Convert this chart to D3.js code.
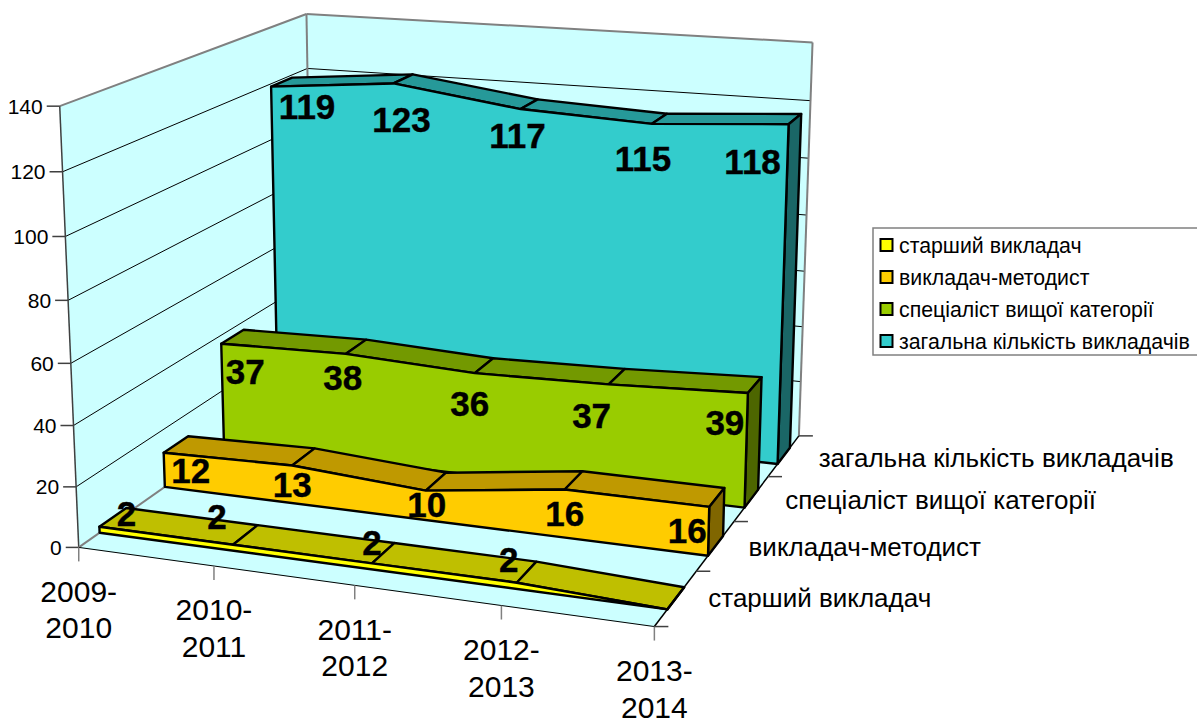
<!DOCTYPE html>
<html><head><meta charset="utf-8">
<style>html,body{margin:0;padding:0;background:#fff}svg{display:block}text{font-family:"Liberation Sans",Arial,sans-serif;fill:#000}</style>
<script src="https://cdn.jsdelivr.net/npm/d3@7"></script></head><body>
<svg id="c" width="1197" height="718"></svg>
<script>
// ---- data ----
const categories = [["2009-","2010"],["2010-","2011"],["2011-","2012"],["2012-","2013"],["2013-","2014"]];
const seriesNames = ["старший викладач","викладач-методист","спеціаліст вищої категорії","загальна кількість викладачів"];
const seniorLecturer = [2,2,2,2,0];
const methodist = [12,13,10,16,16];
const specialist = [37,38,36,37,39];
const totalTeachers = [119,123,117,115,118];
const valueTicks = [0,20,40,60,80,100,120,140];

// ---- styles ----
const palette = [
 {front:"#FFFF00",top:"#BFBF00",side:"#808000"},
 {front:"#FFCC00",top:"#BF9900",side:"#806600"},
 {front:"#99CC00",top:"#739900",side:"#4D6600"},
 {front:"#33CCCC",top:"#269999",side:"#1A6666"}];
const seriesValues = [seniorLecturer,methodist,specialist,totalTeachers];

// ---- scales (unit cube) ----
const xs = d3.scalePoint().domain(d3.range(categories.length)).range([0,1]);
const zs = d3.scaleBand().domain(d3.range(seriesNames.length)).range([0,1]).paddingInner(.6).paddingOuter(.3);
const vs = d3.scaleLinear().domain([0,140]).range([0,1]);

// ---- camera calibrated from landmarks of the chart box ----
const zf=i=>zs(i), zb=i=>zs(i)+zs.bandwidth();
const frame = [
 [0,0,0,78,547],[.25,0,0,214,566],[.5,0,0,355,585],[.75,0,0,501.5,606.5],[1,0,0,654,627],
 [1,.25,0,698,571],[1,.5,0,735,521],[1,.75,0,768,477],[1,1,0,798,435],[0,1,0,313,384],
 [0,0,1,60,106],[0,1,1,308,13],[1,1,1,812,44],[0,0,6/7,63,172],[0,0,4/7,68,300],[0,0,2/7,74,425],[0,0,1/7,76,487],
 [0,1,6/7,307,68],[1,1,6/7,810,100],
 [0,zf(3),vs(119),273,87],[.25,zf(3),vs(123),385,85],[.5,zf(3),vs(117),523,108],[.75,zf(3),vs(115),655,124],[1,zf(3),vs(118),788,125],[1,zb(3),vs(118),802,113],
 [0,zf(2),vs(37),222,344],[1,zf(2),vs(39),748,392],[1,zb(2),vs(39),762,378],[0,zb(2),vs(37),244,329],
 [0,zf(1),vs(12),164,453],[0,zf(1),0,165,487],[1,zf(1),vs(16),708,507],[1,zf(1),0,708,555],[0,zb(1),vs(12),188,436],
 [0,zf(0),0,99,533],[1,zf(0),0,667,610],[1,zb(0),0,683,587]];
function solve(A,b){const n=b.length,M=A.map((r,i)=>[...r,b[i]]);
 for(let i=0;i<n;i++){let p=i;for(let r=i+1;r<n;r++)if(Math.abs(M[r][i])>Math.abs(M[p][i]))p=r;[M[i],M[p]]=[M[p],M[i]];
  for(let r=0;r<n;r++){if(r===i)continue;const f=M[r][i]/M[i][i];for(let c=i;c<=n;c++)M[r][c]-=f*M[i][c];}}
 return M.map((r,i)=>r[n]/r[i]);}
const rows=[],rhs=[];
frame.forEach(([x,z,v,u,w])=>{
 rows.push([x,z,v,1,0,0,0,0,-u*x,-u*z,-u*v]);rhs.push(u);
 rows.push([0,0,0,0,x,z,v,1,-w*x,-w*z,-w*v]);rhs.push(w);});
const ATA=d3.range(11).map(i=>d3.range(11).map(j=>d3.sum(rows,r=>r[i]*r[j])));
const ATb=d3.range(11).map(i=>d3.sum(rows,(r,k)=>r[i]*rhs[k]));
const P=solve(ATA,ATb);
function proj(x,z,v){const d=P[8]*x+P[9]*z+P[10]*v+1;
 return [(P[0]*x+P[1]*z+P[2]*v+P[3])/d,(P[4]*x+P[5]*z+P[6]*v+P[7])/d];}

const svg=d3.select("#c");
const line=d3.line();
const poly=pts=>line(pts)+"Z";
const GREY="#808080";

// walls and floor
const wallFill="#CCFFFF";
[[[0,0,0],[0,1,0],[0,1,1],[0,0,1]],[[0,1,0],[1,1,0],[1,1,1],[0,1,1]],[[0,0,0],[1,0,0],[1,1,0],[0,1,0]]].forEach(w=>{
 svg.append("path").attr("d",poly(w.map(p=>proj(...p)))).attr("fill",wallFill).attr("stroke",wallFill);});

// gridlines
svg.append("g").selectAll("path").data(valueTicks.slice(1,-1)).join("path")
 .attr("d",t=>line([proj(0,0,vs(t)),proj(0,1,vs(t)),proj(1,1,vs(t))]))
 .attr("fill","none").attr("stroke","#000").attr("stroke-width",1);

// wall edges
const edge=(a,b,c,w)=>svg.append("path").attr("d",line([proj(...a),proj(...b)])).attr("stroke",c).attr("stroke-width",w).attr("fill","none");
edge([0,0,1],[0,1,1],GREY,2);edge([0,1,1],[1,1,1],GREY,2);edge([0,1,1],[0,1,0],GREY,2);edge([1,1,1],[1,1,0],GREY,2);
edge([0,0,0],[0,0,1],"#404040",1.5);edge([0,0,0],[0,1,0],GREY,2);
edge([0,0,0],[1,0,0],"#000",1);edge([1,0,0],[1,1,0],"#000",1.5);

// value axis
const yAxis=svg.append("g").selectAll("g").data(valueTicks).join("g");
yAxis.append("line").attr("x1",t=>proj(0,0,vs(t))[0]-13).attr("x2",t=>proj(0,0,vs(t))[0])
 .attr("y1",t=>proj(0,0,vs(t))[1]).attr("y2",t=>proj(0,0,vs(t))[1]).attr("stroke","#404040").attr("stroke-width",1.5);
yAxis.append("text").text(t=>t).attr("x",t=>proj(0,0,vs(t))[0]-17).attr("y",t=>proj(0,0,vs(t))[1]).attr("dy",".36em")
 .attr("text-anchor","end").attr("font-size",21);

// category axis
const xAxis=svg.append("g").selectAll("g").data(d3.range(categories.length)).join("g");
xAxis.append("line").attr("x1",i=>proj(xs(i),0,0)[0]).attr("x2",i=>proj(xs(i),0,0)[0])
 .attr("y1",i=>proj(xs(i),0,0)[1]).attr("y2",i=>proj(xs(i),0,0)[1]+14).attr("stroke",GREY).attr("stroke-width",1.5);
xAxis.each(function(i){const g=d3.select(this),p=proj(xs(i),0,0);
 categories[i].forEach((s,k)=>g.append("text").text(s).attr("x",p[0]).attr("y",p[1]+54.5+k*36.5)
  .attr("text-anchor","middle").attr("font-size",30));});

// series axis
const depthTicks=d3.range(seriesNames.length+1).map(i=>i/seriesNames.length);
svg.append("g").selectAll("line").data(depthTicks).join("line")
 .attr("x1",d=>proj(1,d,0)[0]).attr("x2",d=>proj(1,d,0)[0]+14)
 .attr("y1",d=>proj(1,d,0)[1]).attr("y2",d=>proj(1,d,0)[1]).attr("stroke","#404040").attr("stroke-width",1.5);
svg.append("g").selectAll("text").data(seriesNames).join("text").text(d=>d)
 .attr("x",(d,i)=>proj(1,depthTicks[i+1],0)[0]+12+i*2.6)
 .attr("y",(d,i)=>proj(1,depthTicks[i+1],0)[1]+26.5-i*1.5).attr("dy",".36em").attr("font-size",26);

// ribbons, back to front
const seriesOrder=[3,2,1,0];
const ribbons=svg.append("g").selectAll("g").data(seriesOrder).join("g");
const face=(g,pts,fill)=>g.append("path").attr("d",poly(pts)).attr("fill",fill).attr("stroke","#000")
 .attr("stroke-width",2.4).attr("stroke-linejoin","round");
ribbons.each(function(s){
 const g=d3.select(this),vals=seriesValues[s],f=zf(s),b=zb(s),c=palette[s];
 d3.pairs(d3.range(vals.length)).forEach(([i,j])=>{
  face(g,[proj(xs(i),f,vs(vals[i])),proj(xs(j),f,vs(vals[j])),proj(xs(j),b,vs(vals[j])),proj(xs(i),b,vs(vals[i]))],c.top);});
 const last=vals.length-1;
 face(g,[proj(1,f,0),proj(1,b,0),proj(1,b,vs(vals[last])),proj(1,f,vs(vals[last]))],c.side);
 const topEdge=vals.map((v,i)=>proj(xs(i),f,vs(v)));
 face(g,[...topEdge,proj(1,f,0),proj(0,f,0)],c.front);
});

// data labels: offsets from each ridge point, as placed by the original chart
const labelOffsets=[
 [[27,-13],[-16,-28],[0,-21],[-8,-23]],
 [[27,18],[0,19],[1,14],[0,24],[-22,24]],
 [[24,28],[-3,23],[-5,30],[-17,31],[-23,29]],
 [[36,20],[8,36],[-3,26],[-9,35],[-36,37]]];
seriesOrder.forEach(s=>{
 labelOffsets[s].forEach((o,i)=>{
  const p=proj(xs(i),zs(s),vs(seriesValues[s][i]));
  svg.append("text").text(seriesValues[s][i]).attr("x",p[0]+o[0]).attr("y",p[1]+o[1]).attr("dy",".36em")
   .attr("text-anchor","middle").attr("font-size",35).attr("font-weight","bold")
   .attr("stroke","#000").attr("stroke-width",.4);});
});

// legend
svg.append("rect").attr("x",873).attr("y",228).attr("width",335).attr("height",127).attr("fill","#fff").attr("stroke",GREY).attr("stroke-width",1.5);
const lg=svg.append("g").selectAll("g").data(seriesNames).join("g");
const legendY=d3.scaleLinear().domain([0,3]).range([245,341]);
lg.append("rect").attr("x",880.5).attr("y",(d,i)=>legendY(i)-6).attr("width",12).attr("height",12)
 .attr("fill",(d,i)=>palette[i].front).attr("stroke","#000").attr("stroke-width",2);
lg.append("text").text(d=>d).attr("x",899).attr("y",(d,i)=>legendY(i)).attr("dy",".36em").attr("font-size",21.3);
</script></body></html>
